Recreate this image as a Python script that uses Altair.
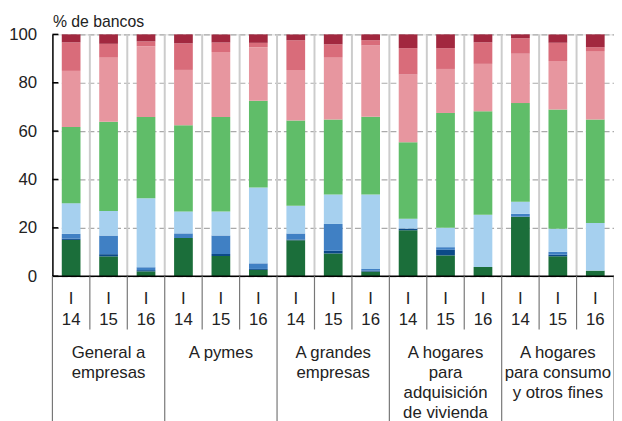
import altair as alt
import pandas as pd

# ---- data ----
groups = ["General a\nempresas", "A pymes", "A grandes\nempresas",
          "A hogares\npara\nadquisición\nde vivienda",
          "A hogares\npara consumo\ny otros fines"]
years = ["14", "15", "16"]
quarter = "I"

series = ["Serie 1", "Serie 2", "Serie 3", "Serie 4",
          "Serie 5", "Serie 6", "Serie 7", "Serie 8"]
colors = ["#1b6e3a", "#0c4a88", "#4080c4", "#a6d0ef",
          "#60bd69", "#e7969f", "#d96c7a", "#a2283f"]

# values per bar (15 bars: 5 groups x 3 years), bottom to top
serie1 = [15.0, 8.2, 2.0, 15.8, 8.3, 2.6, 14.9, 9.4, 1.9, 19.0, 8.6, 3.8, 24.6, 8.2, 2.3]
serie2 = [0.5, 0.9, 0.5, 0.0, 0.9, 0.4, 0.3, 1.1, 0.4, 0.7, 2.3, 0.0, 0.0, 0.7, 0.0]
serie3 = [2.0, 7.7, 1.2, 1.9, 7.6, 2.3, 2.5, 11.1, 0.7, 0.0, 1.1, 0.0, 1.2, 1.2, 0.0]
serie4 = [12.7, 10.2, 28.5, 9.1, 10.0, 31.4, 11.4, 12.2, 30.8, 4.1, 8.0, 21.6, 5.0, 9.5, 19.7]
serie5 = [31.5, 36.9, 33.6, 35.6, 39.0, 35.9, 35.3, 31.0, 32.1, 31.6, 47.5, 42.8, 40.8, 49.3, 42.8]
serie6 = [23.2, 26.7, 29.3, 22.9, 26.9, 22.1, 20.9, 25.8, 29.5, 28.0, 18.2, 19.6, 20.4, 20.1, 28.3]
serie7 = [11.8, 5.5, 2.0, 11.0, 3.9, 1.8, 12.3, 5.3, 2.2, 10.9, 8.6, 8.9, 6.4, 7.5, 1.6]
serie8 = [3.3, 3.9, 2.9, 3.7, 3.4, 3.5, 2.4, 4.1, 2.4, 5.7, 5.7, 3.3, 1.6, 3.5, 5.3]
all_series = [serie1, serie2, serie3, serie4, serie5, serie6, serie7, serie8]

yticks = [0, 20, 40, 60, 80, 100]

# ---- tables ----
rows = []
for s_idx, (name, vals) in enumerate(zip(series, all_series)):
    for b, v in enumerate(vals):
        rows.append({"pos": b, "series": name, "order": s_idx, "value": v})
df = pd.DataFrame(rows)

n_bars = len(groups) * len(years)
lbl = pd.DataFrame({"pos": list(range(n_bars)),
                    "text": [quarter + "\n" + years[i % 3] for i in range(n_bars)]})
grp = pd.DataFrame({"g": list(range(len(groups))), "text": groups})
sep_in = pd.DataFrame({"k": list(range(1, n_bars))})
sep_short = pd.DataFrame({"k": [k for k in range(1, n_bars) if k % 3 != 0]})
sep_long = pd.DataFrame({"k": [k for k in range(0, n_bars + 1) if k % 3 == 0]})
ticks = pd.DataFrame({"v": yticks})

W, H = 569, 245
FONT = "Liberation Sans"
xscale = alt.Scale(domain=[0, n_bars], nice=False, zero=False, padding=0)
yscale = alt.Scale(domain=[0, 100], nice=False, padding=0)

seps = alt.Chart(sep_in).mark_rule(color="#cccccc", strokeWidth=2).encode(
    x=alt.X("k:Q", scale=xscale, axis=None),
    y=alt.value(0), y2=alt.value(H))

bars = alt.Chart(df).transform_stack(
    stack="value", as_=["y0", "y1"], groupby=["pos"],
    sort=[alt.SortField("order", order="ascending")]
).transform_calculate(
    x0="datum.pos + 0.25", x1="datum.pos + 0.75"
).mark_bar().encode(
    x=alt.X("x0:Q", scale=xscale, axis=None),
    x2="x1:Q",
    y=alt.Y("y0:Q", scale=yscale,
            axis=alt.Axis(values=yticks, grid=True, gridDash=[6, 3],
                          gridColor="#aaaaaa", gridWidth=1.2, ticks=False,
                          domain=True, domainColor="black", domainWidth=1.5,
                          labelFontSize=17, labelPadding=16, labelColor="#222222",
                          labelFont=FONT,
                          title="% de bancos", titleAngle=0, titleAlign="left",
                          titleBaseline="alphabetic", titleX=0, titleY=-8,
                          titleFontSize=16, titleFontWeight="normal",
                          titleFont=FONT, titleColor="#222222")),
    y2="y1:Q",
    color=alt.Color("series:N", scale=alt.Scale(domain=series, range=colors), legend=None),
)

ytick_marks = alt.Chart(ticks).mark_rule(color="black", strokeWidth=1.5).encode(
    y=alt.Y("v:Q", scale=yscale), x=alt.value(0), x2=alt.value(6))

xaxis_line = alt.Chart(ticks).transform_filter("datum.v == 0").mark_rule(
    color="black", strokeWidth=1.5).encode(
    y=alt.Y("v:Q", scale=yscale), x=alt.value(0), x2=alt.value(W))

short_lines = alt.Chart(sep_short).mark_rule(color="#777777", strokeWidth=1.2).encode(
    x=alt.X("k:Q", scale=xscale), y=alt.value(H), y2=alt.value(H + 54))
long_lines = alt.Chart(sep_long).mark_rule(color="#777777", strokeWidth=1.2).encode(
    x=alt.X("k:Q", scale=xscale), y=alt.value(H), y2=alt.value(H + 160))

year_text = alt.Chart(lbl).transform_calculate(xc="datum.pos + 0.5").mark_text(
    lineBreak="\n", lineHeight=21, fontSize=17, font=FONT, color="#222222",
    baseline="alphabetic", align="center").encode(
    x=alt.X("xc:Q", scale=xscale), y=alt.value(273), text="text:N")

grp_text = alt.Chart(grp).transform_calculate(xc="datum.g * 3 + 1.5").mark_text(
    lineBreak="\n", lineHeight=20.5, fontSize=17, font=FONT, color="#222222",
    baseline="alphabetic", align="center").encode(
    x=alt.X("xc:Q", scale=xscale), y=alt.value(327.5), text="text:N")

chart = alt.layer(
    seps, bars, ytick_marks, xaxis_line, short_lines, long_lines, year_text, grp_text
).properties(
    width=W, height=H,
    padding={"left": 45, "top": 24, "right": 0, "bottom": 144},
    autosize=alt.AutoSizeParams(type="none"),
).configure_view(stroke=None).configure(background="white")

chart.save("out.html", embed_options={"renderer": "svg", "actions": False})
